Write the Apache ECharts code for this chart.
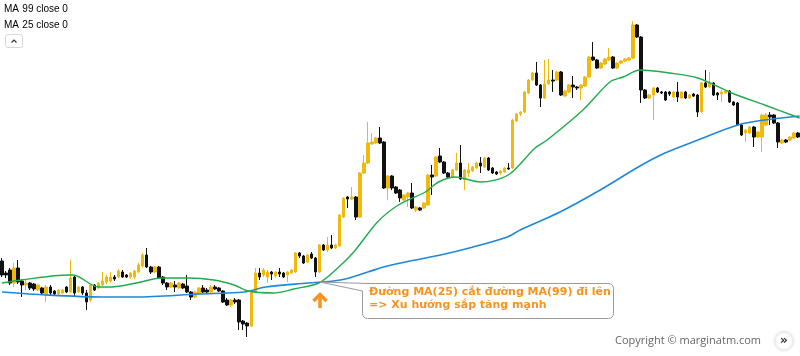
<!DOCTYPE html>
<html>
<head>
<meta charset="utf-8">
<script src="https://cdn.jsdelivr.net/npm/echarts@6/dist/echarts.min.js"></script>
<style>
html,body{margin:0;padding:0;background:#fff;}
#chart{width:800px;height:356px;}
</style>
</head>
<body>
<div id="chart"></div>
<script>
// Candles: [open, close, low, high] (price units)
const candles = [
[95,81,79,98],[83,81,78,85],[86,73,71,88],[73,88,69,93],[88,74,72,96],
[75,71,59,77],[71,73,66,76],[73,68,66,74],[72,67,65,73],[66,71,65,72],
[68,63,61,69],[61,69,54,71],[69,63,61,71],[65,62,60,66],[62,66,61,67],
[63,66,62,67],[69,64,63,70],[64,78,63,96],[79,63,59,80],[64,69,63,70],
[69,63,61,70],[63,54,46,66],[56,71,54,72],[71,66,65,72],[68,73,67,74],
[71,75,70,84],[74,79,72,81],[75,79,73,84],[79,77,75,81],[79,85,78,87],
[84,79,78,86],[81,79,78,82],[79,83,77,84],[79,85,77,86],[84,91,83,93],
[90,101,88,103],[101,89,88,108],[89,84,82,90],[84,89,83,90],[89,78,77,90],
[79,73,71,80],[73,69,66,74],[69,73,68,74],[71,69,64,75],[68,73,67,74],
[72,68,67,73],[70,64,63,81],[64,59,56,65],[59,64,58,65],[62,68,61,69],
[68,64,63,71],[66,64,62,68],[64,69,63,71],[69,67,66,71],[68,65,64,69],
[65,54,53,66],[56,51,50,58],[51,56,49,57],[56,54,52,58],[56,34,26,57],
[35,32,26,36],[33,30,19,34],[30,64,29,66],[64,83,63,88],[83,79,76,88],
[81,86,79,88],[79,84,73,86],[84,82,76,85],[80,84,78,85],[84,82,79,88],
[83,79,78,84],[81,84,74,85],[83,86,82,87],[84,103,83,104],[103,100,98,104],
[100,93,92,101],[94,101,93,102],[102,98,97,104],[98,84,79,99],[84,111,83,112],
[111,106,105,112],[106,111,104,119],[111,108,107,121],[108,111,107,112],[110,141,109,142],
[139,158,138,159],[159,157,148,160],[157,159,156,169],[159,139,136,160],[139,183,138,184],
[183,193,182,201],[193,213,192,234],[212,214,211,223],[213,218,212,219],[218,213,212,229],
[214,168,167,215],[168,180,156,181],[180,168,166,181],[169,163,162,170],[166,158,154,167],
[156,161,155,162],[159,163,149,164],[163,148,147,173],[146,149,144,150],[148,146,145,149],
[148,153,147,154],[151,181,150,182],[181,179,161,191],[180,199,179,200],[200,194,193,208],
[194,183,182,195],[183,179,177,184],[179,186,178,187],[186,193,185,203],[193,177,176,211],
[176,186,166,187],[183,186,179,193],[185,189,184,190],[188,193,187,194],[193,190,183,199],
[189,198,188,199],[198,186,185,199],[188,183,182,189],[184,182,181,185],[183,185,181,186],
[184,188,183,189],[188,187,186,193],[188,236,187,237],[235,242,234,243],[242,244,240,245],
[244,264,243,265],[263,276,262,277],[276,283,275,284],[283,271,270,294],[271,258,249,272],
[258,272,257,296],[272,276,271,297],[276,275,264,286],[276,284,275,285],[284,261,260,285],
[260,265,259,266],[264,271,263,272],[271,269,258,280],[269,268,266,270],[268,271,256,272],
[270,279,269,280],[279,299,278,300],[299,296,295,314],[296,288,287,297],[288,293,287,294],
[292,297,291,298],[296,299,295,308],[299,288,287,300],[288,293,287,294],[293,295,292,296],
[295,297,294,298],[296,298,295,299],[298,331,297,335],[331,319,318,332],[319,266,253,320],
[266,258,257,267],[258,261,257,262],[261,268,236,269],[268,264,263,269],[264,263,262,265],
[264,256,255,265],[264,262,260,265],[259,264,258,265],[264,259,254,274],[258,264,257,265],
[264,258,257,265],[258,261,257,262],[262,260,259,263],[261,244,239,262],[244,273,243,274],
[273,269,268,286],[269,273,268,284],[273,261,260,274],[263,261,256,264],[262,264,254,266],
[263,265,262,266],[265,254,253,266],[254,251,250,255],[253,231,230,254],[231,221,220,232],
[223,226,214,227],[223,229,222,230],[229,219,209,230],[219,224,218,225],[219,241,204,242],
[231,241,230,243],[241,239,231,244],[241,233,232,242],[233,214,208,234],[213,216,212,217],
[216,214,213,217],[216,219,215,220],[218,223,217,224],[223,219,218,224]
];
const categories = candles.map((_, i) => String(i + 1));

// Moving averages: [candle position, value]
const ma25 = [
[0,73],[4.8,76],[16.5,81],[17.7,81],[24,69],[27.2,69],[33.4,73],[39.6,78],[46.3,78],
[52.7,76],[57.7,71],[61.2,65],[67.6,63],[72.6,67],[78.8,73],[83.5,88],[87.5,104],
[93.4,134],[98.6,151],[105.3,164],[108.6,174],[112.8,179],[119,174],[125.9,181],
[132.6,208],[135.6,216],[144.5,246],[151.2,274],[154.5,279],[158.7,286],[166.1,283],
[173.1,278],[181.5,263],[189.7,251],[198.4,238]
];
const ma99 = [
[0,64],[11,61],[24.7,59],[33.4,59],[48.8,62],[60.2,64],[65.6,69],[76.1,73],[84.2,76],
[91,84],[94.9,89],[99.1,93],[109.1,101],[117.2,109],[125.7,119],[128.9,126],[138.8,144],
[148.8,166],[158.7,190],[164.9,203],[173.1,216],[183,231],[189.7,236],[198.4,240]
];

const legendLines = ['99 close 0', '25 close 0'];
const noteLines = ['Đường MA(25) cắt đường MA(99) đi lên', '=> Xu hướng sắp tăng mạnh'];
const copyrightText = 'Copyright © marginatm.com';

const YELLOW = '#F0B90B', BLACK = '#111111', ORANGE = '#F7931E';
const legendRich = {
  a: {fontSize: 10, color: '#222', fontFamily: 'Liberation Sans'},
  b: {fontSize: 10, color: '#777', fontFamily: 'Liberation Sans'}
};

const chart = echarts.init(document.getElementById('chart'), null, {renderer: 'canvas'});
chart.setOption({
  animation: false,
  backgroundColor: '#ffffff',
  grid: {left: -1.5, right: -0.5, top: 0, bottom: 0, containLabel: false},
  xAxis: [
    {type: 'category', data: categories, show: false, boundaryGap: true},
    {type: 'value', min: -0.5, max: candles.length - 0.5, show: false}
  ],
  yAxis: {type: 'value', min: 0, max: 356, show: false},
  series: [
    {
      type: 'candlestick', xAxisIndex: 0, data: candles, barWidth: 3,
      itemStyle: {color: YELLOW, color0: BLACK, borderColor: YELLOW, borderColor0: BLACK, borderWidth: 1}
    },
    {
      type: 'line', xAxisIndex: 1, data: ma99, symbol: 'none', smooth: 0.3,
      lineStyle: {color: '#1E88D8', width: 1.6}, z: 3
    },
    {
      type: 'line', xAxisIndex: 1, data: ma25, symbol: 'none', smooth: 0.3,
      lineStyle: {color: '#20AA4C', width: 1.4}, z: 3
    }
  ],
  graphic: [
    {type: 'text', left: 4, top: 3, style: {text: '{a|MA} {b|' + legendLines[0] + '}', rich: legendRich}},
    {type: 'text', left: 4, top: 19, style: {text: '{a|MA} {b|' + legendLines[1] + '}', rich: legendRich}},
    {type: 'rect', shape: {x: 5.5, y: 34.5, width: 17, height: 13, r: 2}, style: {fill: '#fff', stroke: '#d8d8d8', lineWidth: 1}},
    {type: 'polyline', shape: {points: [[11.5, 42.5], [14, 40], [16.5, 42.5]]}, style: {stroke: '#333', lineWidth: 1.2, fill: null}},
    {type: 'rect', shape: {x: 362.5, y: 283.5, width: 251, height: 35, r: 5}, style: {fill: '#ffffff', stroke: '#9a9a9a', lineWidth: 1}, z: 10},
    {type: 'polygon', shape: {points: [[321, 282.4], [368, 284.3], [363.3, 291]]}, style: {fill: '#ffffff', stroke: null}, z: 11},
    {type: 'polyline', shape: {points: [[368, 283.5], [320, 282], [362.5, 291]]}, style: {stroke: '#9a9a9a', lineWidth: 1, fill: null}, z: 12},
    {type: 'text', left: 369, top: 287, z: 13, style: {text: noteLines[0], fill: ORANGE, font: 'bold 11px "DejaVu Sans"'}},
    {type: 'text', left: 369, top: 300, z: 13, style: {text: noteLines[1], fill: ORANGE, font: 'bold 11px "DejaVu Sans"'}},
    {type: 'polyline', shape: {points: [[320, 308], [320, 295]]}, style: {stroke: ORANGE, lineWidth: 3.5, fill: null}, z: 11},
    {type: 'polyline', shape: {points: [[313.5, 301], [320, 294.5], [326.5, 301]]}, style: {stroke: ORANGE, lineWidth: 3.5, fill: null, lineJoin: 'miter'}, z: 11},
    {type: 'text', left: 615, top: 335, style: {text: copyrightText, fill: '#666', font: '11px "Open Sans"'}},
    {type: 'circle', shape: {cx: 784, cy: 341, r: 9}, style: {fill: '#fff', stroke: '#eee', lineWidth: 1, shadowBlur: 3, shadowColor: 'rgba(0,0,0,0.15)'}},
    {type: 'text', x: 784, y: 341, style: {text: '»', fill: '#333', font: 'bold 12px "DejaVu Sans"', align: 'center', verticalAlign: 'middle'}}
  ]
});
</script>
</body>
</html>
